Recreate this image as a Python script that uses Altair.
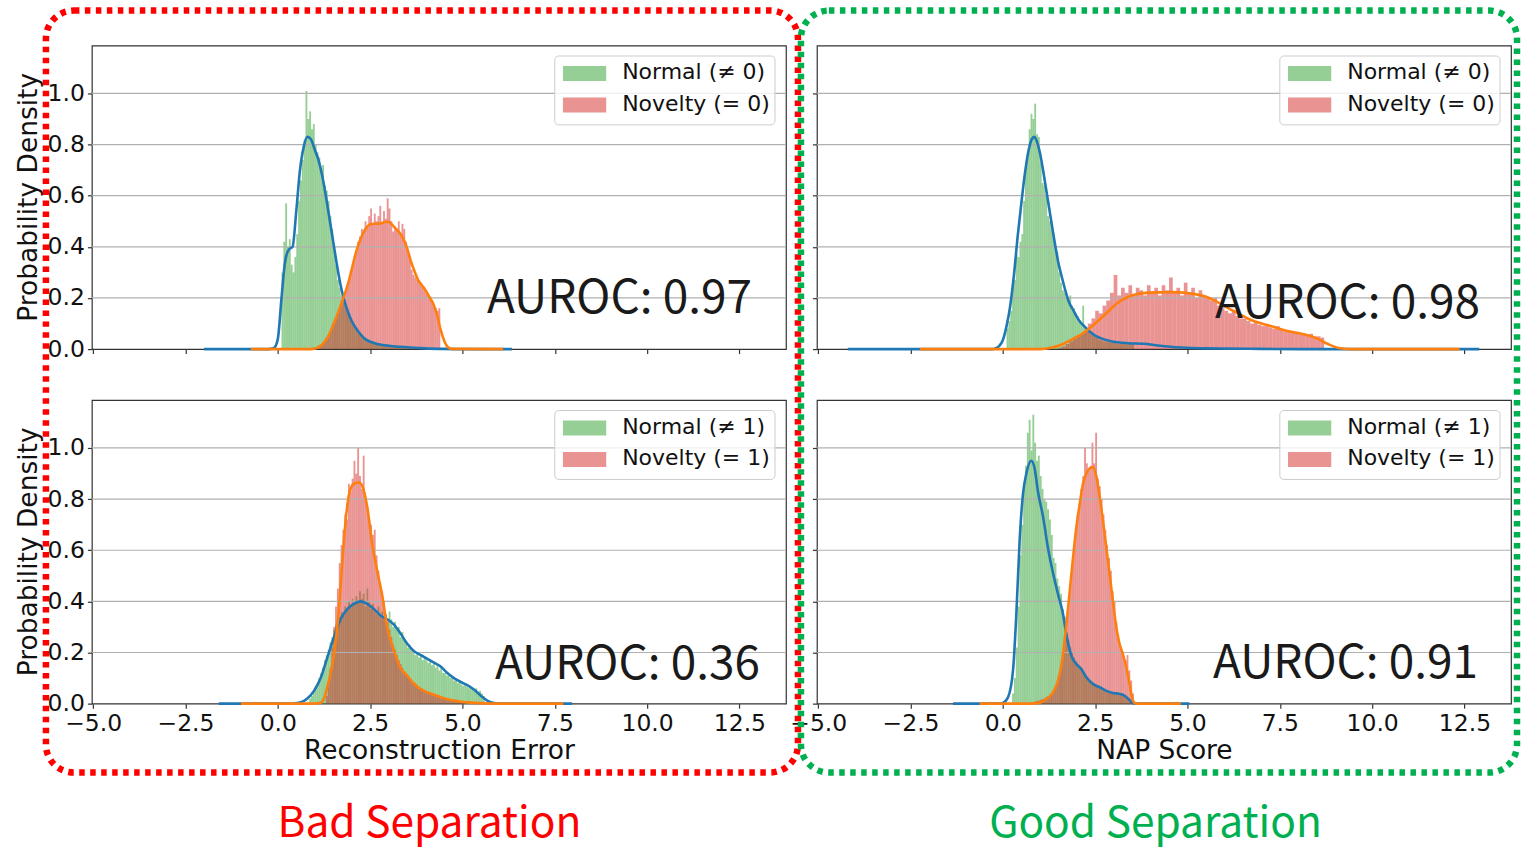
import altair as alt
import pandas as pd

# ---------------- axes ----------------
X_TICKS = [-5.0, -2.5, 0.0, 2.5, 5.0, 7.5, 10.0, 12.5]
Y_TICKS = [0.0, 0.2, 0.4, 0.6, 0.8, 1.0]
GRID_Y = [0.2, 0.4, 0.6, 0.8, 1.0]
X_DOMAIN = [-5.035, 13.76]
Y_DOMAIN = [0.0, 1.1875]

X_TITLES = ["Reconstruction Error", "NAP Score"]
Y_TITLE = "Probability Density"
LEGEND_TOP = ["Normal (≠ 0)", "Novelty (= 0)"]
LEGEND_BOTTOM = ["Normal (≠ 1)", "Novelty (= 1)"]
AUROC = ["AUROC: 0.97", "AUROC: 0.98", "AUROC: 0.36", "AUROC: 0.91"]
GROUP_LABELS = ["Bad Separation", "Good Separation"]

# ---------------- histograms: (first bin edge, bin width, densities) ----------------
TL_NORMAL_HIST = (0.10, 0.05, [
    0.30, 0.42, 0.57, 0.40, 0.43, 0.33, 0.30, 0.36, 0.45, 0.58,
    0.66, 0.74, 0.82, 1.01, 0.90, 0.93, 0.86, 0.88, 0.80, 0.77,
    0.75, 0.70, 0.72, 0.64, 0.62, 0.58, 0.52, 0.47, 0.40, 0.33,
    0.27, 0.24, 0.21, 0.18, 0.17, 0.15, 0.13, 0.12, 0.11, 0.095,
    0.085, 0.075, 0.065, 0.055, 0.045, 0.04, 0.035, 0.03, 0.028, 0.025,
    0.022, 0.02, 0.018, 0.017, 0.015, 0.014, 0.013, 0.012, 0.012, 0.011,
    0.010, 0.010, 0.009, 0.008, 0.008, 0.007, 0.006, 0.006, 0.005, 0.005])
TL_NOVEL_HIST = (1.10, 0.05, [
    0.01, 0.015, 0.02, 0.03, 0.045, 0.055, 0.07, 0.085, 0.10, 0.12,
    0.14, 0.16, 0.19, 0.20, 0.22, 0.25, 0.27, 0.31, 0.33, 0.36,
    0.38, 0.42, 0.44, 0.47, 0.46, 0.50, 0.48, 0.52, 0.55, 0.49,
    0.53, 0.50, 0.52, 0.56, 0.49, 0.54, 0.51, 0.59, 0.55, 0.50,
    0.46, 0.48, 0.47, 0.50, 0.45, 0.49, 0.47, 0.42, 0.38, 0.35,
    0.31, 0.29, 0.28, 0.27, 0.27, 0.25, 0.24, 0.23, 0.22, 0.21,
    0.20, 0.19, 0.17, 0.16, 0.15, 0.16])
TR_NORMAL_HIST = (0.10, 0.05, [
    0.08, 0.11, 0.15, 0.25, 0.27, 0.37, 0.36, 0.42, 0.45, 0.58,
    0.73, 0.75, 0.86, 0.92, 0.90, 0.96, 0.84, 0.83, 0.73, 0.65,
    0.64, 0.60, 0.52, 0.50, 0.47, 0.45, 0.40, 0.38, 0.30, 0.26,
    0.23, 0.22, 0.20, 0.19, 0.21, 0.17, 0.16, 0.14, 0.13, 0.11,
    0.10, 0.17, 0.09, 0.08, 0.07, 0.06, 0.055, 0.05, 0.045, 0.04,
    0.035, 0.035, 0.03, 0.03, 0.028, 0.027, 0.025, 0.025, 0.024, 0.022,
    0.022, 0.02, 0.021, 0.02, 0.02, 0.019, 0.02, 0.018, 0.018])
TR_NOVEL_HIST = (1.50, 0.10, [
    0.005, 0.01, 0.02, 0.03, 0.04, 0.05, 0.06, 0.07, 0.10, 0.12,
    0.15, 0.14, 0.17, 0.19, 0.22, 0.29, 0.21, 0.24, 0.22, 0.25,
    0.21, 0.24, 0.23, 0.21, 0.25, 0.22, 0.24, 0.21, 0.25, 0.23,
    0.28, 0.22, 0.24, 0.21, 0.26, 0.22, 0.24, 0.20, 0.23, 0.21,
    0.20, 0.19, 0.20, 0.17, 0.16, 0.15, 0.14, 0.15, 0.13, 0.12,
    0.12, 0.11, 0.10, 0.11, 0.095, 0.09, 0.09, 0.085, 0.08, 0.09,
    0.075, 0.07, 0.07, 0.065, 0.065, 0.06, 0.06, 0.055, 0.06, 0.05,
    0.05, 0.045])
BL_NORMAL_HIST = (0.85, 0.05, [
    0.02, 0.03, 0.05, 0.07, 0.08, 0.10, 0.12, 0.14, 0.17, 0.19,
    0.21, 0.24, 0.26, 0.29, 0.31, 0.32, 0.34, 0.36, 0.35, 0.38,
    0.37, 0.40, 0.38, 0.41, 0.39, 0.42, 0.40, 0.44, 0.41, 0.43,
    0.38, 0.45, 0.40, 0.37, 0.39, 0.36, 0.35, 0.38, 0.34, 0.36,
    0.33, 0.35, 0.32, 0.36, 0.33, 0.30, 0.32, 0.29, 0.30, 0.26,
    0.28, 0.25, 0.24, 0.22, 0.23, 0.21, 0.20, 0.19, 0.20, 0.18,
    0.19, 0.17, 0.18, 0.17, 0.16, 0.17, 0.15, 0.16, 0.14, 0.15,
    0.13, 0.14, 0.12, 0.12, 0.11, 0.11, 0.10, 0.10, 0.09, 0.09,
    0.08, 0.085, 0.075, 0.07, 0.075, 0.065, 0.06, 0.065, 0.055, 0.05,
    0.06, 0.045, 0.05, 0.04, 0.03])
BL_NOVEL_HIST = (1.30, 0.05, [
    0.03, 0.08, 0.14, 0.22, 0.30, 0.38, 0.45, 0.55, 0.62, 0.68,
    0.74, 0.72, 0.86, 0.83, 0.88, 0.95, 0.90, 1.00, 0.89, 0.84,
    0.97, 0.80, 0.77, 0.72, 0.70, 0.66, 0.68, 0.58, 0.52, 0.47,
    0.44, 0.40, 0.35, 0.32, 0.29, 0.26, 0.23, 0.21, 0.19, 0.17,
    0.155, 0.14, 0.125, 0.115, 0.11, 0.10, 0.09, 0.085, 0.08, 0.07,
    0.065, 0.06, 0.055, 0.05, 0.05, 0.045, 0.04, 0.04, 0.035, 0.035,
    0.03, 0.03, 0.025, 0.025, 0.02, 0.02, 0.018, 0.016, 0.015, 0.013,
    0.012, 0.01, 0.01, 0.008, 0.008])
BR_NORMAL_HIST = (0.25, 0.05, [
    0.04, 0.10, 0.22, 0.38, 0.58, 0.70, 0.86, 0.93, 1.06, 1.11,
    0.99, 1.13, 1.02, 0.95, 0.97, 0.89, 0.84, 0.80, 0.79, 0.76,
    0.72, 0.66, 0.57, 0.55, 0.49, 0.46, 0.43, 0.37, 0.34, 0.28,
    0.25, 0.22, 0.20, 0.18, 0.165, 0.155, 0.145, 0.14, 0.12, 0.115,
    0.105, 0.095, 0.09, 0.085, 0.08, 0.075, 0.07, 0.065, 0.06, 0.055,
    0.05, 0.045, 0.045, 0.04, 0.04, 0.038, 0.036, 0.035, 0.033, 0.032,
    0.03, 0.028, 0.025, 0.02])
BR_NOVEL_HIST = (0.80, 0.05, [
    0.005, 0.008, 0.01, 0.012, 0.015, 0.018, 0.02, 0.025, 0.03, 0.035,
    0.04, 0.05, 0.06, 0.08, 0.11, 0.15, 0.20, 0.26, 0.32, 0.39,
    0.46, 0.53, 0.60, 0.67, 0.74, 0.78, 0.84, 0.89, 1.00, 0.94,
    0.91, 0.93, 1.02, 0.94, 1.06, 0.88, 0.85, 0.80, 0.74, 0.68,
    0.62, 0.57, 0.52, 0.44, 0.40, 0.32, 0.27, 0.22, 0.20, 0.18,
    0.17, 0.19, 0.13, 0.09, 0.04])

# ---------------- KDE curves ----------------
TL_NORMAL_KDE_X = [-2.0, -0.3, -0.2, -0.1, 0.0, 0.1, 0.2, 0.3, 0.4, 0.5, 0.6, 0.7, 0.8, 0.9, 1.0,
                   1.1, 1.2, 1.3, 1.4, 1.5, 1.6, 1.7, 1.8, 1.9, 2.0, 2.1, 2.2, 2.3, 2.4, 2.6,
                   2.8, 3.0, 3.3, 3.6, 4.0, 4.5, 5.0, 6.34]
TL_NORMAL_KDE_Y = [0.0, 0.0, 0.001, 0.005, 0.04, 0.20, 0.345, 0.39, 0.40, 0.54, 0.70, 0.79, 0.83, 0.82, 0.78,
                   0.74, 0.68, 0.60, 0.51, 0.42, 0.33, 0.25, 0.19, 0.145, 0.11, 0.085, 0.065, 0.048, 0.036, 0.024,
                   0.017, 0.013, 0.009, 0.006, 0.003, 0.001, 0.0, 0.0]
TL_NOVEL_KDE_X = [-0.73, 0.9, 1.0, 1.1, 1.2, 1.3, 1.4, 1.5, 1.6, 1.7, 1.8, 1.9, 2.0, 2.1, 2.2, 2.3,
                  2.4, 2.5, 2.6, 2.7, 2.8, 2.9, 3.0, 3.1, 3.2, 3.3, 3.4, 3.5, 3.6, 3.7, 3.8, 3.9,
                  4.0, 4.1, 4.2, 4.3, 4.4, 4.5, 4.6, 4.7, 6.1]
TL_NOVEL_KDE_Y = [0.0, 0.0, 0.002, 0.008, 0.017, 0.035, 0.06, 0.095, 0.13, 0.17, 0.21, 0.255, 0.31, 0.37, 0.415, 0.45,
                  0.475, 0.488, 0.49, 0.49, 0.492, 0.497, 0.498, 0.486, 0.47, 0.455, 0.43, 0.395, 0.345, 0.305, 0.27, 0.25,
                  0.23, 0.205, 0.18, 0.14, 0.08, 0.035, 0.008, 0.001, 0.0]
TR_NORMAL_KDE_X = [-4.2, -0.3, -0.2, -0.1, 0.0, 0.1, 0.2, 0.3, 0.4, 0.5, 0.6, 0.7, 0.8, 0.85, 0.9, 1.0,
                   1.1, 1.2, 1.3, 1.4, 1.5, 1.6, 1.7, 1.8, 1.9, 2.0, 2.1, 2.2, 2.35, 2.5, 2.7, 2.9,
                   3.1, 3.4, 3.8, 4.2, 4.6, 5.0, 5.5, 6.0, 7.0, 8.0, 12.9]
TR_NORMAL_KDE_Y = [0.0, 0.0, 0.003, 0.012, 0.035, 0.09, 0.17, 0.29, 0.44, 0.57, 0.69, 0.78, 0.825, 0.83, 0.82, 0.77,
                   0.69, 0.60, 0.51, 0.42, 0.34, 0.28, 0.225, 0.18, 0.154, 0.127, 0.105, 0.09, 0.069, 0.053, 0.04, 0.032,
                   0.027, 0.023, 0.021, 0.014, 0.008, 0.005, 0.003, 0.002, 0.001, 0.0, 0.0]
TR_NOVEL_KDE_X = [-2.25, 1.0, 1.3, 1.6, 1.9, 2.2, 2.5, 2.8, 3.1, 3.4, 3.7, 4.0, 4.3, 4.6, 4.9, 5.2,
                  5.5, 5.8, 6.1, 6.4, 6.7, 7.0, 7.3, 7.6, 7.9, 8.2, 8.5, 8.8, 9.1, 9.4, 12.37]
TR_NOVEL_KDE_Y = [0.0, 0.0, 0.005, 0.018, 0.04, 0.065, 0.10, 0.14, 0.18, 0.205, 0.217, 0.221, 0.222, 0.223, 0.221, 0.215,
                  0.205, 0.185, 0.16, 0.138, 0.115, 0.10, 0.088, 0.075, 0.065, 0.056, 0.042, 0.02, 0.004, 0.0, 0.0]
BL_NORMAL_KDE_X = [-1.6, 0.4, 0.5, 0.62, 0.8, 0.98, 1.16, 1.34, 1.52, 1.7, 1.88, 2.06, 2.24, 2.42, 2.6, 2.78,
                   2.96, 3.14, 3.32, 3.5, 3.69, 3.87, 4.05, 4.23, 4.41, 4.59, 4.77, 4.95, 5.13, 5.31, 5.49, 5.67,
                   5.85, 6.0, 7.97]
BL_NORMAL_KDE_Y = [0.0, 0.0, 0.002, 0.005, 0.02, 0.05, 0.10, 0.18, 0.26, 0.33, 0.37, 0.39, 0.40, 0.39, 0.37, 0.345,
                   0.33, 0.31, 0.275, 0.235, 0.205, 0.19, 0.175, 0.16, 0.145, 0.12, 0.10, 0.085, 0.072, 0.055, 0.032, 0.012,
                   0.002, 0.0, 0.0]
BL_NOVEL_KDE_X = [-1.0, 1.0, 1.16, 1.25, 1.34, 1.43, 1.52, 1.6, 1.66, 1.75, 1.84, 1.93, 2.06, 2.2, 2.29, 2.42,
                  2.56, 2.69, 2.83, 2.96, 3.14, 3.32, 3.5, 3.69, 3.87, 4.05, 4.23, 4.41, 4.68, 5.13, 5.6, 6.0, 7.73]
BL_NOVEL_KDE_Y = [0.0, 0.0, 0.003, 0.02, 0.064, 0.12, 0.19, 0.29, 0.38, 0.56, 0.72, 0.82, 0.86, 0.865, 0.85, 0.77,
                  0.62, 0.52, 0.42, 0.30, 0.21, 0.14, 0.11, 0.077, 0.057, 0.044, 0.035, 0.025, 0.014, 0.005, 0.001, 0.0, 0.0]
BR_NORMAL_KDE_X = [-1.35, -0.1, 0.0, 0.14, 0.275, 0.365, 0.455, 0.545, 0.636, 0.77, 0.86, 0.95, 1.09, 1.22, 1.36, 1.49,
                   1.63, 1.72, 1.85, 1.99, 2.12, 2.26, 2.44, 2.62, 2.8, 2.98, 3.16, 3.29, 3.43, 3.52, 3.6, 5.05]
BR_NORMAL_KDE_Y = [0.0, 0.0, 0.003, 0.025, 0.13, 0.35, 0.64, 0.82, 0.90, 0.95, 0.92, 0.83, 0.73, 0.61, 0.51, 0.43,
                   0.35, 0.27, 0.19, 0.155, 0.136, 0.103, 0.077, 0.064, 0.05, 0.042, 0.038, 0.031, 0.014, 0.002, 0.0, 0.0]
BR_NOVEL_KDE_X = [-0.63, 0.72, 1.0, 1.18, 1.36, 1.54, 1.63, 1.72, 1.81, 1.9, 1.99, 2.08, 2.17, 2.26, 2.35, 2.44,
                  2.53, 2.62, 2.71, 2.8, 2.89, 2.98, 3.07, 3.16, 3.25, 3.34, 3.43, 3.52, 3.61, 4.82]
BR_NOVEL_KDE_Y = [0.0, 0.0, 0.004, 0.018, 0.044, 0.116, 0.194, 0.31, 0.44, 0.57, 0.69, 0.78, 0.86, 0.90, 0.92, 0.925,
                  0.89, 0.81, 0.716, 0.61, 0.507, 0.40, 0.30, 0.233, 0.194, 0.142, 0.077, 0.012, 0.0, 0.0]

# ---------------- styling ----------------
GREEN = "#2ca02c"
RED = "#d62728"
BLUE = "#1f77b4"
ORANGE = "#ff7f0e"
TEXT = "#111111"
PANEL_W = 695
PANEL_H = 304


def hist_frame(spec):
    start, width, dens = spec
    n = len(dens)
    return pd.DataFrame({
        "x0": [round(start + i * width, 4) for i in range(n)],
        "x1": [round(start + (i + 1) * width, 4) for i in range(n)],
        "h": dens,
        "base": [0.0] * n,
    })


def kde_frame(xs, ys):
    return pd.DataFrame({"x": xs, "y": ys})


ONE = pd.DataFrame({"d": [0]})
GRID_DF = pd.DataFrame({"g": GRID_Y})


def make_panel(normal_hist, novel_hist, normal_kde, novel_kde, legend_labels, auroc, auroc_pos,
               x_labels, x_title, y_labels, extra=()):
    x_axis_kw = dict(values=X_TICKS, format=".1f", labels=x_labels, grid=False, domain=False,
                     ticks=True, tickSize=4.5, tickWidth=1.2, tickColor="#333333",
                     labelFont="DejaVu Sans", labelFontSize=23.5, labelColor=TEXT,
                     labelPadding=3.9, labelFlush=False, labelOverlap=False,
                     titleFont="DejaVu Sans", titleFontSize=26.5, titleFontWeight="normal",
                     titleColor=TEXT, titlePadding=2.5)
    x_axis = alt.Axis(title=x_title if x_title else None, **x_axis_kw)
    y_axis = alt.Axis(values=Y_TICKS, format=".1f", labels=y_labels, grid=False, domain=False,
                      ticks=True, tickSize=4.5, tickWidth=1.2, tickColor="#333333",
                      labelFont="DejaVu Sans", labelFontSize=23.5, labelColor=TEXT,
                      labelPadding=3, title=None)
    xs = alt.Scale(domain=X_DOMAIN, nice=False, zero=False)
    ys = alt.Scale(domain=Y_DOMAIN, nice=False, zero=False)

    def xe(f):
        return alt.X(f, type="quantitative", scale=xs, axis=x_axis)

    def ye(f):
        return alt.Y(f, type="quantitative", scale=ys, axis=y_axis)

    layers = [
        alt.Chart(hist_frame(normal_hist)).mark_rect(color=GREEN, opacity=0.5).encode(
            x=xe("x0"), x2="x1", y=ye("h"), y2="base"),
        alt.Chart(hist_frame(novel_hist)).mark_rect(color=RED, opacity=0.5).encode(
            x=xe("x0"), x2="x1", y=ye("h"), y2="base"),
        alt.Chart(GRID_DF).mark_rule(color="#b0b0b0", strokeWidth=1.2).encode(y=ye("g")),
        alt.Chart(kde_frame(*normal_kde)).mark_line(color=BLUE, strokeWidth=2.6, interpolate="monotone").encode(
            x=xe("x"), y=ye("y")),
        alt.Chart(kde_frame(*novel_kde)).mark_line(color=ORANGE, strokeWidth=2.6, interpolate="monotone").encode(
            x=xe("x"), y=ye("y")),
        alt.Chart(ONE).mark_text(text=auroc, font="Noto Sans CJK KR", fontSize=46, color="#1a1a1a",
                                 align="right", baseline="alphabetic").encode(
            x=alt.value(auroc_pos[0]), y=alt.value(auroc_pos[1])),
        # legend box
        alt.Chart(ONE).mark_rect(fill="white", fillOpacity=0.8, stroke="#cccccc", strokeWidth=1,
                                 cornerRadius=4).encode(
            x=alt.value(463.5), x2=alt.value(684), y=alt.value(10.5), y2=alt.value(79.5)),
        alt.Chart(ONE).mark_rect(color=GREEN, opacity=0.5).encode(
            x=alt.value(471.7), x2=alt.value(515), y=alt.value(20.5), y2=alt.value(35.5)),
        alt.Chart(ONE).mark_rect(color=RED, opacity=0.5).encode(
            x=alt.value(471.7), x2=alt.value(515), y=alt.value(52), y2=alt.value(67)),
        alt.Chart(ONE).mark_text(text=legend_labels[0], font="DejaVu Sans", fontSize=22, color=TEXT,
                                 align="left", baseline="alphabetic").encode(
            x=alt.value(531), y=alt.value(34)),
        alt.Chart(ONE).mark_text(text=legend_labels[1], font="DejaVu Sans", fontSize=22, color=TEXT,
                                 align="left", baseline="alphabetic").encode(
            x=alt.value(531), y=alt.value(65.5)),
    ]
    layers.extend(extra)
    return alt.layer(*layers).properties(width=PANEL_W, height=PANEL_H)


def y_title_layer():
    return alt.Chart(ONE).mark_text(text=Y_TITLE, font="DejaVu Sans", fontSize=26.5, color=TEXT,
                                    angle=270, align="center", baseline="middle").encode(
        x=alt.value(-63), y=alt.value(152))


# decorations placed in the last panel (origin at 817, 399 of the figure)
decor = [
    alt.Chart(ONE).mark_rect(fill="white", opacity=0).encode(
        x=alt.value(-817), x2=alt.value(705), y=alt.value(-399), y2=alt.value(449)),
    alt.Chart(ONE).mark_rect(filled=False, stroke="#ff0000", strokeWidth=6.5, strokeDash=[5.5, 5.5],
                             cornerRadius=28).encode(
        x=alt.value(-772), x2=alt.value(-19), y=alt.value(-390), y2=alt.value(373)),
    alt.Chart(ONE).mark_rect(filled=False, stroke="#00b050", strokeWidth=6.5, strokeDash=[5.5, 5.5],
                             cornerRadius=28).encode(
        x=alt.value(-16), x2=alt.value(701), y=alt.value(-390), y2=alt.value(373)),
    alt.Chart(ONE).mark_text(text=GROUP_LABELS[0], font="Noto Sans CJK KR", fontSize=42.5, color="#ff0000",
                             align="center", baseline="alphabetic").encode(
        x=alt.value(-388), y=alt.value(438)),
    alt.Chart(ONE).mark_text(text=GROUP_LABELS[1], font="Noto Sans CJK KR", fontSize=42.5, color="#00b050",
                             align="center", baseline="alphabetic").encode(
        x=alt.value(339), y=alt.value(438)),
]

tl = make_panel(TL_NORMAL_HIST, TL_NOVEL_HIST, (TL_NORMAL_KDE_X, TL_NORMAL_KDE_Y),
                (TL_NOVEL_KDE_X, TL_NOVEL_KDE_Y), LEGEND_TOP, AUROC[0], (661, 268),
                False, None, True, extra=[y_title_layer()])
tr = make_panel(TR_NORMAL_HIST, TR_NOVEL_HIST, (TR_NORMAL_KDE_X, TR_NORMAL_KDE_Y),
                (TR_NOVEL_KDE_X, TR_NOVEL_KDE_Y), LEGEND_TOP, AUROC[1], (664, 273),
                False, None, False)
bl = make_panel(BL_NORMAL_HIST, BL_NOVEL_HIST, (BL_NORMAL_KDE_X, BL_NORMAL_KDE_Y),
                (BL_NOVEL_KDE_X, BL_NOVEL_KDE_Y), LEGEND_BOTTOM, AUROC[2], (669, 279),
                True, X_TITLES[0], True, extra=[y_title_layer()])
br = make_panel(BR_NORMAL_HIST, BR_NOVEL_HIST, (BR_NORMAL_KDE_X, BR_NORMAL_KDE_Y),
                (BR_NOVEL_KDE_X, BR_NOVEL_KDE_Y), LEGEND_BOTTOM, AUROC[3], (662, 278),
                True, X_TITLES[1], False, extra=decor)

chart = alt.concat(tl, tr, bl, br, columns=2, spacing={"row": 51, "column": 31},
                   bounds="flush").properties(padding=0, background="white").configure_view(
    stroke="#333333", strokeWidth=1.2)

chart.save("out.html", embed_options={"renderer": "svg", "actions": False})
